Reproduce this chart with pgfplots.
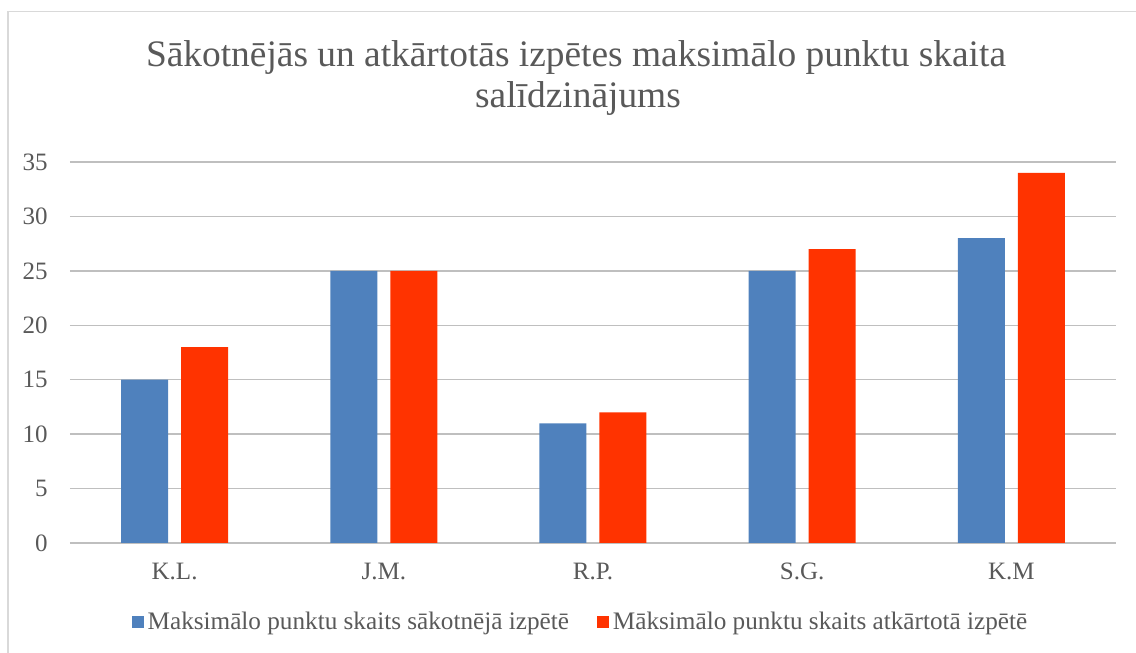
\documentclass[border=0pt]{standalone}
\usepackage{pgfplots}
\pgfplotsset{compat=1.18}
\usepackage{fontspec}
\setmainfont{Liberation Serif}
\definecolor{txt}{HTML}{595959}
\definecolor{grid}{HTML}{D9D9D9}
\definecolor{cblue}{HTML}{4F81BD}
\definecolor{cred}{HTML}{FF3300}
\begin{document}
\begin{tikzpicture}
\useasboundingbox (0pt,0pt) rectangle (568pt,326.5pt);
\draw[grid, line width=0.75pt] (4pt,0pt) -- (4pt,320.75pt) -- (568pt,320.75pt);
\node[anchor=base, text=txt, font=\fontsize{18.7}{22}\selectfont, inner sep=0] at (288pt,293pt) {Sākotnējās un atkārtotās izpētes maksimālo punktu skaita};
\node[anchor=base, text=txt, font=\fontsize{18.7}{22}\selectfont, inner sep=0] at (289pt,272.5pt) {salīdzinājums};
\begin{axis}[
  at={(35pt,55pt)}, anchor=south west,
  width=523pt, height=190.5pt, scale only axis,
  xmin=-0.5, xmax=4.5, ymin=0, ymax=35,
  xtick={0,1,2,3,4},
  xticklabels={K.L.,J.M.,R.P.,S.G.,K.M},
  ytick={0,5,...,35},
  ymajorgrids, xmajorgrids=false, grid style={grid, line width=0.75pt},
  axis line style={draw=none},
  major tick length=0pt, tick style={draw=none},
  /pgf/number format/assume math mode=true,
  every tick label/.append style={text=txt, inner sep=0pt, font=\fontsize{12.5}{14}\selectfont},
  yticklabel style={anchor=east},
  yticklabel shift=11pt,
  xticklabel shift=10pt,
  ybar, bar width=23.5pt,
  legend columns=2,
  legend style={at={(0.489,-0.207)}, anchor=center, draw=none, fill=none,
    font=\fontsize{12.6}{14}\selectfont, text=txt,
    /tikz/every even column/.append style={column sep=12pt}},
  legend image code/.code={\fill[#1] (0pt,-3pt) rectangle (6pt,3pt);},
]
\addplot[fill=cblue, draw=none, bar shift=-15pt] coordinates {(0,15) (1,25) (2,11) (3,25) (4,28)};
\addplot[fill=cred, draw=none, bar shift=15pt] coordinates {(0,18) (1,25) (2,12) (3,27) (4,34)};
\legend{Maksimālo punktu skaits sākotnējā izpētē, Māksimālo punktu skaits atkārtotā izpētē}
\end{axis}
\end{tikzpicture}
\end{document}
